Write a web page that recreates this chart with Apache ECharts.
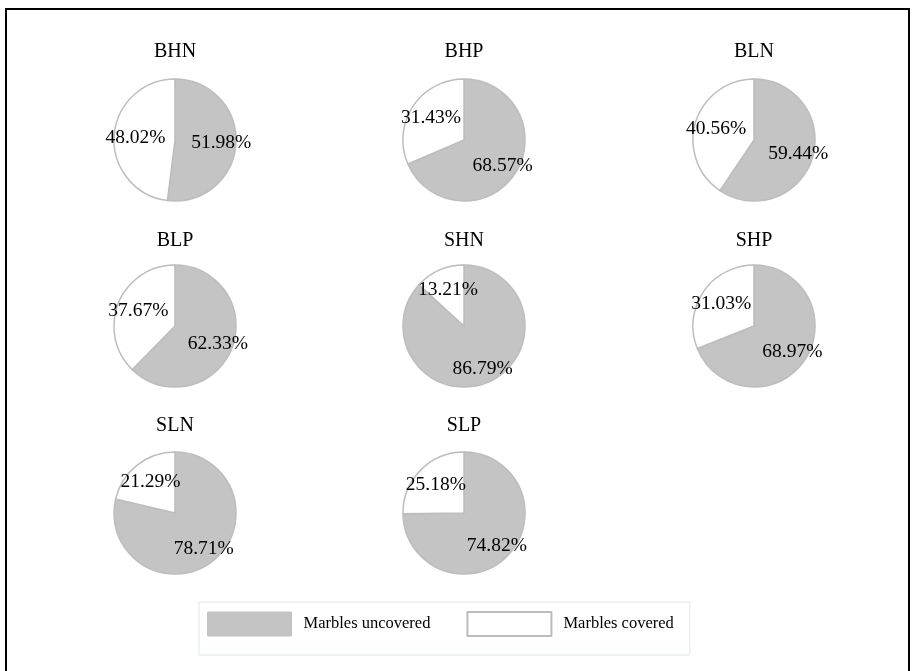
<!DOCTYPE html>
<html>
<head>
<meta charset="utf-8">
<script src="https://cdn.jsdelivr.net/npm/echarts@6/dist/echarts.min.js"></script>
<style>
  html, body { margin: 0; padding: 0; background: #fff; }
  #chart { width: 914px; height: 671px; }
</style>
</head>
<body>
<div id="chart"></div>
<script>
const groups = ["BHN", "BHP", "BLN", "BLP", "SHN", "SHP", "SLN", "SLP"];
const uncovered = [51.98, 68.57, 59.44, 62.33, 86.79, 68.97, 78.71, 74.82];
const covered = [48.02, 31.43, 40.56, 37.67, 13.21, 31.03, 21.29, 25.18];
const sliceNames = ["Marbles uncovered", "Marbles covered"];

// layout of the 3 x 3 grid
const colX = [175, 464, 754];
const rowY = [140, 326, 513];
const titleY = [42, 231, 416];
const R = 61;

const GREY = "#c4c4c4";
const EDGE = "#bdbdbd";
const FONT = "Liberation Serif";

const chart = echarts.init(document.getElementById("chart"));

const titles = [];
const pies = [];
const labelRings = [];

// transparent ring whose middle sets where the labels of one slice sit
function labelRing(cx, cy, i, inner, showIdx) {
  return {
    type: "pie",
    center: [cx, cy],
    radius: [R * inner, R],
    startAngle: 90,
    silent: true,
    animation: false,
    itemStyle: { color: "transparent", borderWidth: 0 },
    label: {
      show: true,
      position: "inside",
      formatter: "{c}%",
      fontFamily: FONT,
      fontSize: 19.5,
      color: "#000",
    },
    labelLine: { show: false },
    data: [
      { name: sliceNames[0], value: uncovered[i], label: { show: showIdx === 0 } },
      { name: sliceNames[1], value: covered[i], label: { show: showIdx === 1 } },
    ],
  };
}

groups.forEach((g, i) => {
  const cx = colX[i % 3];
  const cy = rowY[Math.floor(i / 3)];
  titles.push({
    text: g,
    left: cx,
    top: titleY[Math.floor(i / 3)],
    textAlign: "center",
    padding: 0,
    textStyle: { fontFamily: FONT, fontWeight: "normal", fontSize: 20, color: "#000" },
  });
  pies.push({
    type: "pie",
    center: [cx, cy],
    radius: [0, R],
    startAngle: 90,
    silent: true,
    animation: false,
    label: { show: false },
    labelLine: { show: false },
    itemStyle: { borderColor: EDGE, borderWidth: 1.5 },
    data: [
      { name: sliceNames[0], value: uncovered[i], itemStyle: { color: GREY } },
      { name: sliceNames[1], value: covered[i], itemStyle: { color: "#fff" } },
    ],
  });
  labelRings.push(labelRing(cx, cy, i, 0.42, 0));
  labelRings.push(labelRing(cx, cy, i, 0.2, 1));
});

const option = {
  backgroundColor: "#fff",
  animation: false,
  title: titles,
  legend: {
    left: 199,
    top: 602,
    orient: "horizontal",
    itemWidth: 84,
    itemHeight: 24,
    itemGap: 36,
    padding: [9, 16, 18, 8],
    borderColor: "#dde9ec",
    borderWidth: 1,
    selectedMode: false,
    textStyle: { fontFamily: FONT, fontSize: 16.5, color: "#000", padding: [0, 0, 0, 7] },
    data: [
      { name: sliceNames[0], icon: "rect", itemStyle: { color: GREY, borderColor: GREY, borderWidth: 1 } },
      { name: sliceNames[1], icon: "rect", itemStyle: { color: "#fff", borderColor: EDGE, borderWidth: 2 } },
    ],
  },
  graphic: [
    {
      type: "rect",
      shape: { x: 6, y: 9, width: 903, height: 700 },
      style: { fill: "none", stroke: "#000", lineWidth: 2 },
      silent: true,
    },
  ],
  series: pies.concat(labelRings),
};

chart.setOption(option);
</script>
</body>
</html>
